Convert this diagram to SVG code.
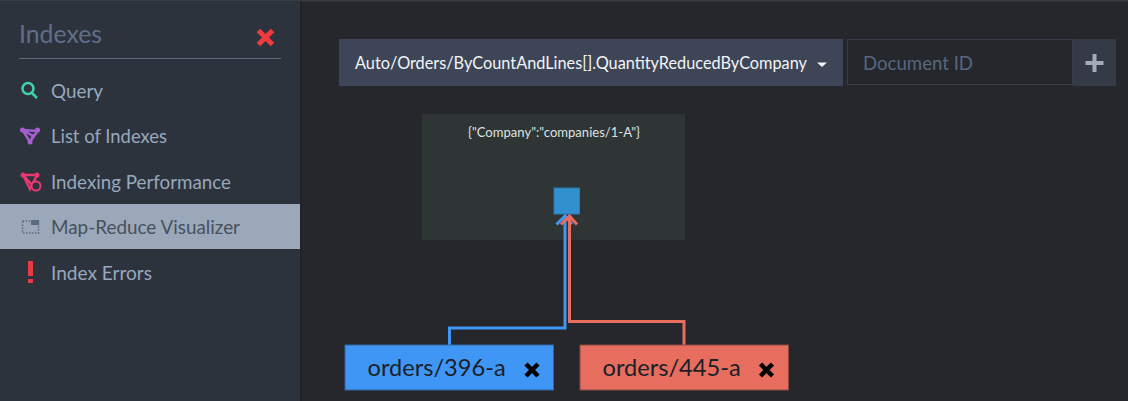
<svg xmlns="http://www.w3.org/2000/svg" width="1128" height="401" viewBox="0 0 1128 401">
<style>
text{font-family:Lato,"Liberation Sans",sans-serif}
.nav{font-size:20px;fill:#97a8bc}
.doc{font-size:23.600px;fill:#1a1f28}
.x{stroke:#000;stroke-width:4.5;fill:none}
.conn{fill:none;stroke-width:3}
</style>
<rect width="1128" height="401" fill="#25272d"/>
<rect width="1128" height="1.500" fill="#383c45"/>
<g id="sidebar">
<rect y="1.500" width="300" height="400" fill="#2d333c"/>
<rect x="300" y="1.500" width="1.500" height="400" fill="#1f2126"/>
<text x="19" y="43" font-size="25" fill="#5f6f8a" textLength="83" lengthAdjust="spacingAndGlyphs">Indexes</text>
<path d="M258.500 30.500L272.500 44.500M272.500 30.500L258.500 44.500" stroke="#ef3a3f" stroke-width="5" fill="none"/>
<rect x="19" y="58" width="262" height="1" fill="#5d6a80"/>
</g>
<g id="nav-query">
<circle cx="28" cy="88.500" r="5.500" fill="none" stroke="#3fd3a8" stroke-width="2.500"/>
<path d="M32 93L37 98" stroke="#3fd3a8" stroke-width="2.500"/>
<text class="nav" x="51" y="98" textLength="52" lengthAdjust="spacingAndGlyphs">Query</text>
</g>
<g id="nav-list">
<path d="M22.500 130L37.500 131L30 142ZM22.500 130L33 136L30 142" fill="none" stroke="#a55fd0" stroke-width="2.500"/>
<circle cx="22.500" cy="130" r="2.500" fill="#a55fd0"/><circle cx="37.500" cy="130" r="2.500" fill="#a55fd0"/><circle cx="30" cy="142" r="2.500" fill="#a55fd0"/><circle cx="33" cy="136" r="2" fill="#a55fd0"/>
<text class="nav" x="51" y="143" textLength="116" lengthAdjust="spacingAndGlyphs">List of Indexes</text>
</g>
<g id="nav-perf">
<path d="M23 175L37 175L30 189ZM23 175L34 187" fill="none" stroke="#e8386f" stroke-width="2.500"/>
<circle cx="23" cy="175" r="2.500" fill="#e8386f"/><circle cx="37" cy="175" r="2.500" fill="#e8386f"/>
<circle cx="36" cy="186" r="4.500" fill="#2d333c" stroke="#e8386f" stroke-width="2"/>
<text class="nav" x="51" y="189" textLength="180" lengthAdjust="spacingAndGlyphs">Indexing Performance</text>
</g>
<g id="nav-mapreduce">
<rect y="204" width="300" height="45" fill="#9aa8b9"/>
<rect x="22.500" y="221" width="16" height="12" fill="none" stroke="#5b6a80" stroke-width="1.500" stroke-dasharray="1.500 1.500"/>
<rect x="31" y="220" width="8" height="5" fill="#5b6a80"/>
<text x="51" y="234" font-size="20" fill="#48505e" textLength="189" lengthAdjust="spacingAndGlyphs">Map-Reduce Visualizer</text>
</g>
<g id="nav-errors">
<rect x="28" y="261" width="5" height="15" fill="#e33c41"/>
<rect x="28" y="279" width="5" height="4" fill="#e33c41"/>
<text class="nav" x="51" y="280" textLength="101" lengthAdjust="spacingAndGlyphs">Index Errors</text>
</g>
<g id="toolbar">
<rect x="339" y="39" width="504" height="47" fill="#3d4556"/>
<text x="355" y="69" font-size="16.500" fill="#f2f4f7" textLength="452" lengthAdjust="spacingAndGlyphs">Auto/Orders/ByCountAndLines[].QuantityReducedByCompany</text>
<path d="M817 62.500H827L822 67Z" fill="#f2f4f7"/>
<rect x="847.500" y="39.500" width="225" height="45" fill="#25272d" stroke="#373e4b"/>
<text x="863" y="70" font-size="20" fill="#5a6680" textLength="110" lengthAdjust="spacingAndGlyphs">Document ID</text>
<rect x="1073" y="39" width="43" height="47" fill="#343a46"/>
<path d="M1094.500 54V72M1085.500 63H1103.500" stroke="#a3acb9" stroke-width="4"/>
</g>
<g id="reduce-node">
<rect x="422" y="114" width="263" height="126" fill="#2f3435"/>
<text x="554" y="136.500" font-size="13" fill="#dfe2e2" text-anchor="middle" textLength="172" lengthAdjust="spacingAndGlyphs">{"Company":"companies/1-A"}</text>
<rect x="554" y="188" width="25.500" height="26" fill="#3390cf" stroke="#2a7bb0"/>
</g>
<g id="connectors">
<path class="conn" stroke="#3f96f5" d="M449.500 345V328H565V216M556.500 224.500L565 216L572 224"/>
<path class="conn" stroke="#e76d5e" d="M684 345V321.500H569.500V216M561 224.500L569.500 216L577 224.500"/>
</g>
<g id="doc-396">
<rect x="345" y="345" width="208.500" height="45" fill="#4096f5" stroke="#33679f"/>
<text class="doc" x="367.500" y="376">orders/396-a</text>
<path class="x" d="M526 364L538 376M538 364L526 376"/>
</g>
<g id="doc-445">
<rect x="580" y="345" width="208.500" height="45" fill="#e76d5e" stroke="#8d4a45"/>
<text class="doc" x="602.500" y="376">orders/445-a</text>
<path class="x" d="M760.500 364L772.500 376M772.500 364L760.500 376"/>
</g>
</svg>
